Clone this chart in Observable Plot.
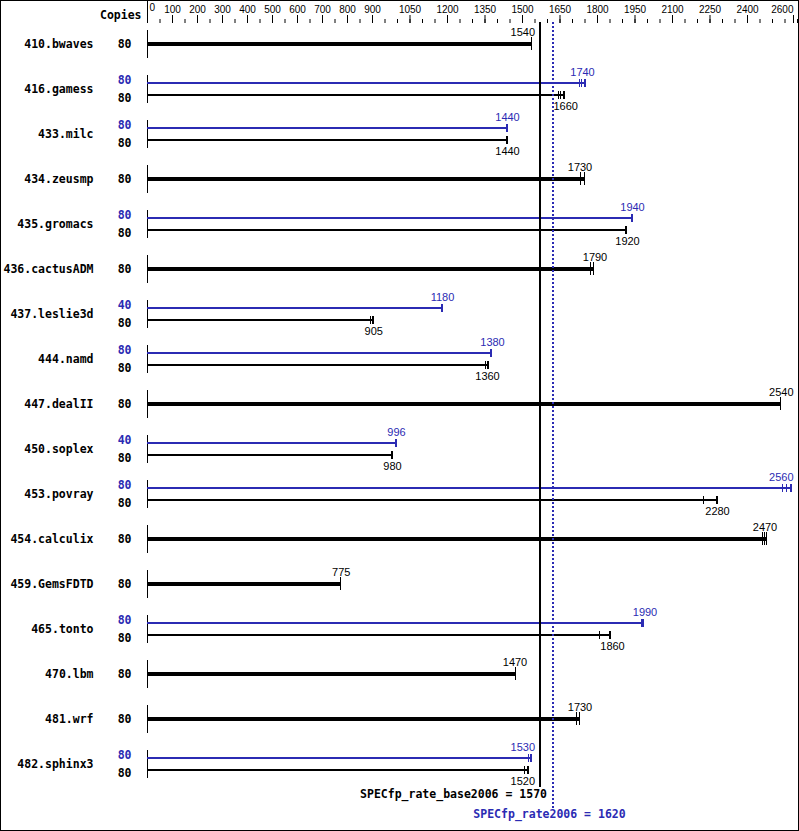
<!DOCTYPE html>
<html>
<head>
<meta charset="utf-8">
<script src="https://cdn.jsdelivr.net/npm/d3@7"></script>
<script src="https://cdn.jsdelivr.net/npm/@observablehq/plot@0.6"></script>
<style>
  html, body { margin: 0; padding: 0; background: #fff; }
  #chart svg { display: block; }
</style>
</head>
<body>
<div id="chart"></div>
<script>
const names = ["410.bwaves","416.gamess","433.milc","434.zeusmp","435.gromacs","436.cactusADM","437.leslie3d","444.namd","447.dealII","450.soplex","453.povray","454.calculix","459.GemsFDTD","465.tonto","470.lbm","481.wrf","482.sphinx3"];
const baseCopies = [80,80,80,80,80,80,80,80,80,80,80,80,80,80,80,80,80];
const peakCopies = [null,80,80,null,80,null,40,80,null,40,80,null,null,80,null,null,80];
const baseScore = [1540,1660,1440,1730,1920,1790,905,1360,2540,980,2280,2470,775,1860,1470,1730,1520];
const peakScore = [null,1740,1440,null,1940,null,1180,1380,null,996,2560,null,null,1990,null,null,1530];
const baseRuns = [[1537,1537,1537],[1642,1653,1664],[1438,1438,1438],[1730,1730,1749],[1913,1913,1913],[1773,1785,1785],[893,901,901],[1352,1360,1360],[2533,2533,2533],[977,977,977],[2224,2276,2276],[2460,2469,2477],[773,773,773],[1806,1850,1850],[1470,1470,1470],[1717,1729,1729],[1508,1520,1520]];
const peakRuns = [null,[1729,1737,1749],[1438,1438,1438],null,[1937,1937,1937],null,[1177,1177,1177],[1373,1373,1373],null,[993,993,993],[2540,2557,2573],null,null,[1976,1982,1982],null,null,[1523,1533,1533]];
const majorTicks = [0,100,200,300,400,500,600,700,800,900,1050,1200,1350,1500,1650,1800,1950,2100,2250,2400,2600];
const baseMean = 1570, peakMean = 1620;
const baseLabel = "SPECfp_rate_base2006 = 1570";
const peakLabel = "SPECfp_rate2006 = 1620";

const BLUE = "#2b2bb3";
const W = 799, H = 831, ML = 147, MR = 2;
const xDomain = [0, 2600];
const xs = Plot.scale({x: {domain: xDomain, range: [ML, W - MR]}});

const singles = [], peaks = [], bases = [];
const singleRuns = [], peakRunPts = [], baseRunPts = [];
names.forEach((name, i) => {
  if (peakRuns[i] == null) {
    singles.push({name, max: d3.max(baseRuns[i]), score: baseScore[i], copies: baseCopies[i]});
    baseRuns[i].forEach(v => singleRuns.push({name, v}));
  } else {
    peaks.push({name, max: d3.max(peakRuns[i]), score: peakScore[i], copies: peakCopies[i]});
    bases.push({name, max: d3.max(baseRuns[i]), score: baseScore[i], copies: baseCopies[i]});
    peakRuns[i].forEach(v => peakRunPts.push({name, v}));
    baseRuns[i].forEach(v => baseRunPts.push({name, v}));
  }
});

// label placement: centred on score, nudged away from the reference lines / right edge
const lines = [xs.apply(baseMean), xs.apply(peakMean)];
function labelX(score) {
  const w = String(score).length * 6.1;
  let c = xs.apply(score);
  for (const L of lines) {
    if (c - w / 2 < L + 2 && c + w / 2 > L - 2) {
      c = c < L ? L - 5 - w / 2 : L + 1 + w / 2;
    }
  }
  if (c + w / 2 > W - 6) c = W - 6 - w / 2;
  return xs.invert(c);
}
[singles, peaks, bases].forEach(arr => arr.forEach(d => d.lx = labelX(d.score)));

const nameFont = {fontFamily: "DejaVu Sans Mono", fontWeight: "bold", fontSize: 11.5};
const valFont = {fontFamily: "Liberation Sans", fontSize: 11};
const fmt = d => String(d);

const plot = Plot.plot({
  width: W, height: H,
  marginLeft: ML, marginRight: MR, marginTop: 22, marginBottom: 44,
  style: {fontFamily: "Liberation Sans", fontSize: "10px", background: "#fff"},
  x: {domain: xDomain, axis: null},
  y: {domain: names, range: [21, 786], padding: 0, axis: null},
  marks: [
    // top axis
    Plot.axisX({anchor: "top", ticks: d3.range(0, 2601, 50), tickSize: 4, tickFormat: () => "", label: null}),
    Plot.axisX({anchor: "top", ticks: majorTicks.slice(1, -1), tickSize: 8, tickPadding: 2, tickFormat: fmt, label: null, fontSize: 10, fontFamily: "Liberation Sans"}),
    Plot.axisX({anchor: "top", ticks: [0], tickSize: 22, tickFormat: () => "", label: null}),
    Plot.axisX({anchor: "top", ticks: [majorTicks[majorTicks.length - 1]], tickSize: 8, tickPadding: 2, tickFormat: fmt, textAnchor: "end", dx: -4, label: null, fontSize: 10, fontFamily: "Liberation Sans"}),
    Plot.text([String(majorTicks[0])], {frameAnchor: "top-left", dx: 2, dy: -12, textAnchor: "start", lineAnchor: "bottom", fontSize: 10, fontFamily: "Liberation Sans", text: d => d}),
    Plot.text(["Copies"], {frameAnchor: "top-left", dx: -6, dy: -12, textAnchor: "end", ...nameFont, text: d => d}),
    // row baseline segments
    Plot.tickX(names, {x: () => 0, y: d => d, insetTop: 8.5, insetBottom: 8.5, stroke: "#000", strokeWidth: 1, shapeRendering: "crispEdges"}),
    // bars
    Plot.ruleY(singles, {y: "name", x1: 0, x2: "max", stroke: "#000", strokeWidth: 4, shapeRendering: "crispEdges"}),
    Plot.ruleY(peaks, {y: "name", x1: 0, x2: "max", stroke: BLUE, strokeWidth: 2, dy: -6, shapeRendering: "crispEdges"}),
    Plot.ruleY(bases, {y: "name", x1: 0, x2: "max", stroke: "#000", strokeWidth: 2, dy: 6, shapeRendering: "crispEdges"}),
    // run ticks
    Plot.tickX(singleRuns, {x: "v", y: "name", insetTop: 16, insetBottom: 16, stroke: "#000", strokeWidth: 1, shapeRendering: "crispEdges"}),
    Plot.tickX(peakRunPts, {x: "v", y: "name", insetTop: 18.5, insetBottom: 18.5, dy: -6, stroke: BLUE, strokeWidth: 1, shapeRendering: "crispEdges"}),
    Plot.tickX(baseRunPts, {x: "v", y: "name", insetTop: 18.5, insetBottom: 18.5, dy: 6, stroke: "#000", strokeWidth: 1, shapeRendering: "crispEdges"}),
    Plot.tickX(peaks, {x: "max", y: "name", insetTop: 18.5, insetBottom: 18.5, dy: -6, stroke: BLUE, strokeWidth: 2, shapeRendering: "crispEdges"}),
    Plot.tickX(bases, {x: "max", y: "name", insetTop: 18.5, insetBottom: 18.5, dy: 6, stroke: "#000", strokeWidth: 2, shapeRendering: "crispEdges"}),
    // value labels
    Plot.text(singles, {x: "lx", y: "name", text: d => String(d.score), dy: -11.5, fill: "#000", ...valFont}),
    Plot.text(peaks, {x: "lx", y: "name", text: d => String(d.score), dy: -17, fill: BLUE, ...valFont}),
    Plot.text(bases, {x: "lx", y: "name", text: d => String(d.score), dy: 17, fill: "#000", ...valFont}),
    // names and copies
    Plot.text(names, {y: d => d, text: d => d, frameAnchor: "left", dx: -54, textAnchor: "end", fill: "#000", ...nameFont}),
    Plot.text(singles, {y: "name", text: d => String(d.copies), frameAnchor: "left", dx: -16, textAnchor: "end", fill: "#000", ...nameFont}),
    Plot.text(peaks, {y: "name", text: d => String(d.copies), frameAnchor: "left", dx: -16, dy: -9, textAnchor: "end", fill: BLUE, ...nameFont}),
    Plot.text(bases, {y: "name", text: d => String(d.copies), frameAnchor: "left", dx: -16, dy: 9, textAnchor: "end", fill: "#000", ...nameFont}),
    // reference lines
    Plot.ruleX([baseMean], {stroke: "#000", strokeWidth: 2, shapeRendering: "crispEdges"}),
    Plot.ruleX([peakMean], {stroke: BLUE, strokeWidth: 2, strokeDasharray: "2,2", insetBottom: -21, shapeRendering: "crispEdges"}),
    Plot.text([baseLabel], {x: () => baseMean, frameAnchor: "bottom", dy: 10, dx: 7, textAnchor: "end", text: d => d, fill: "#000", ...nameFont}),
    Plot.text([peakLabel], {x: () => peakMean, frameAnchor: "bottom", dy: 30, dx: -3, textAnchor: "middle", text: d => d, fill: BLUE, ...nameFont})
  ]
});

d3.select(plot).append("rect")
  .attr("x", 0.5).attr("y", 0.5).attr("width", W - 1).attr("height", H - 1)
  .attr("fill", "none").attr("stroke", "#000").attr("stroke-width", 1);
document.getElementById("chart").appendChild(plot);
</script>
</body>
</html>
